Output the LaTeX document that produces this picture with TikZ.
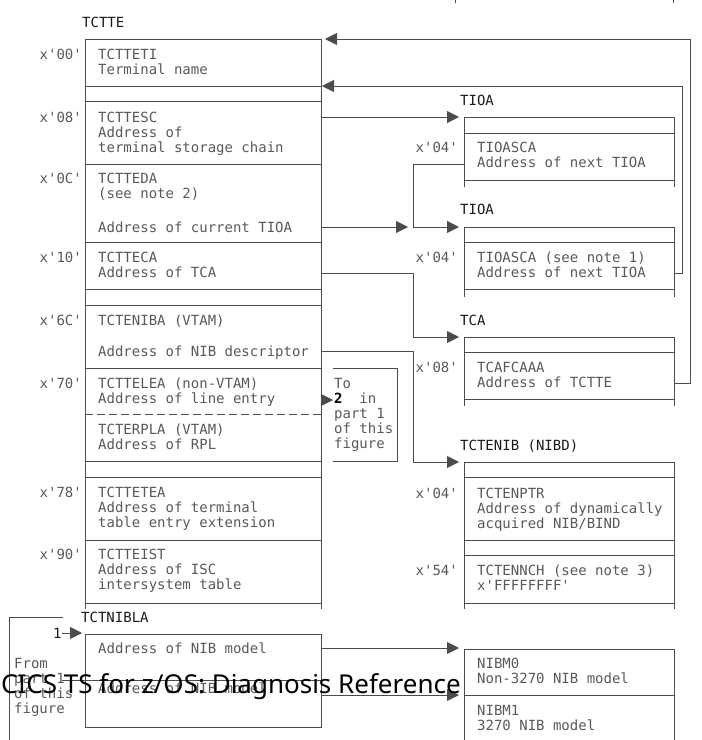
\documentclass[tikz,border=0pt]{standalone}
\usepackage{fontspec}
\setmonofont{DejaVu Sans Mono}
\newfontfamily\hdrfont{Noto Sans}
\usepackage{tikz}
\usetikzlibrary{arrows.meta}

\begin{document}
\begin{tikzpicture}[x=1pt, y=-1pt,
		font=\ttfamily\fontsize{14}{15}\selectfont,
		every node/.style={inner sep=0pt},
		% multi-line fields sit on the baseline of their last line
		fld/.style={anchor=base west, align=left, text=black!65},
		lbl/.style={anchor=base west, text=black!90},
		ofs/.style={anchor=base east, text=black!65},
		box/.style={draw=black!70, line width=0.9pt},
		ptr/.style={box, -{Triangle[length=12pt,width=12pt]}}]
		\useasboundingbox (0,0) rectangle (702,740);
		% ticks left over at the top
		\draw[box] (455,0) -- (455,3) (673,0) -- (673,3);
		% TCTTE
		\node[lbl] (tctte) at (82,27) {TCTTE};
		\draw[box] (85,609) -- (85,39) -- (321,39) -- (321,609);
		\foreach \y in {86,101,164,242,289,305,368,461,477,540,603}
			{\draw[box] (85,\y) -- (321,\y);}
		\draw[box, dash pattern=on 8pt off 4pt] (85,414) -- (321,414);
		\foreach \y/\t in {59/00, 122/08, 183/0C, 262/10, 325/6C, 388/70, 497/78, 559/90}
			{\node[ofs] (o\t) at (82,\y) {x'\t'};}
		\node[fld] (teti) at (98,74)  {TCTTETI\\Terminal name};
		\node[fld] (tesc) at (98,152) {TCTTESC\\Address of\\terminal storage chain};
		\node[fld] (teda) at (98,198) {TCTTEDA\\(see note 2)};
		\node[fld] (tedb) at (98,232) {Address of current TIOA};
		\node[fld] (teca) at (98,277) {TCTTECA\\Address of TCA};
		\node[fld] (nbaa) at (98,325) {TCTENIBA (VTAM)};
		\node[fld] (nbab) at (98,356) {Address of NIB descriptor};
		\node[fld] (telea) at (98,403) {TCTTELEA (non-VTAM)\\Address of line entry};
		\node[fld] (rpla) at (98,449) {TCTERPLA (VTAM)\\Address of RPL};
		\node[fld] (tetea) at (98,527) {TCTTETEA\\Address of terminal\\table entry extension};
		\node[fld] (teist) at (98,589) {TCTTEIST\\Address of ISC\\intersystem table};
		% to part 1
		\draw[box] (333,368) -- (397,368) -- (397,461) -- (333,461);
		\node[fld] (topart) at (334,448) {To\\\textcolor{black}{\textbf{2}}~~in\\part 1\\of this\\figure};
		% TIOA (first)
		\node[lbl] (tioaa) at (460,105) {TIOA};
		\draw[box] (464,187) -- (464,117) -- (674,117) -- (674,187);
		\draw[box] (464,133) -- (674,133) (464,180) -- (674,180);
		\node[ofs] (oa04) at (458,152) {x'04'};
		\node[fld] (scaa) at (477,167) {TIOASCA\\Address of next TIOA};
		% TIOA (second)
		\node[lbl] (tioab) at (460,214) {TIOA};
		\draw[box] (464,297) -- (464,227) -- (674,227) -- (674,297);
		\draw[box] (464,242) -- (674,242) (464,289) -- (674,289);
		\node[ofs] (ob04) at (458,262) {x'04'};
		\node[fld] (scab) at (477,277) {TIOASCA (see note 1)\\Address of next TIOA};
		% TCA
		\node[lbl] (tca) at (460,325) {TCA};
		\draw[box] (464,406) -- (464,337) -- (674,337) -- (674,406);
		\draw[box] (464,352) -- (674,352) (464,399) -- (674,399);
		\node[ofs] (oc08) at (458,372) {x'08'};
		\node[fld] (fcaaa) at (477,387) {TCAFCAAA\\Address of TCTTE};
		% TCTENIB
		\node[lbl] (tctenib) at (460,450) {TCTENIB (NIBD)};
		\draw[box] (464,609) -- (464,462) -- (674,462) -- (674,609);
		\foreach \y in {477,540,555,603}
			{\draw[box] (464,\y) -- (674,\y);}
		\node[ofs] (od04) at (458,498) {x'04'};
		\node[fld] (enptr) at (477,528) {TCTENPTR\\Address of dynamically\\acquired NIB/BIND};
		\node[ofs] (od54) at (458,575) {x'54'};
		\node[fld] (ennch) at (477,590) {TCTENNCH (see note 3)\\x'FFFFFFFF'};
		% TCTNIBLA
		\node[lbl] (tctnibla) at (81,622) {TCTNIBLA};
		\draw[box] (85,634) rectangle (321,727);
		\draw[box] (62,680) -- (321,680);
		\node[fld] (moda) at (98,653) {Address of NIB model};
		\node[fld] (modb) at (98,693) {Address of NIB model};
		\draw[box] (63,617) -- (9,617) -- (9,740);
		\node[fld] (from) at (14,713) {From\\part 1\\of this\\figure};
		\node[lbl] (one) at (53,638) {1};
		% NIB models
		\draw[box] (464,740) -- (464,649) -- (674,649) -- (674,740);
		\draw[box] (464,695) -- (674,695);
		\node[fld] (nibma) at (477,683) {NIBM0\\Non-3270 NIB model};
		\node[fld] (nibmb) at (477,730) {NIBM1\\3270 NIB model};
		% pointers
		\coordinate (ptesc) at (321,117);  \coordinate (intioaa) at (459,117);
		\coordinate (pscaa) at (464,164);  \coordinate (intioab) at (459,227);
		\coordinate (pteda) at (321,227);  \coordinate (inchain) at (408,227);
		\coordinate (pteca) at (321,273);  \coordinate (intca) at (459,337);
		\coordinate (pnba) at (321,351);   \coordinate (innib) at (459,462);
		\coordinate (pfca) at (674,383);   \coordinate (intctte) at (325,39);
		\coordinate (pscab) at (674,273);  \coordinate (intctteb) at (322,86);
		\coordinate (plea) at (321,400);   \coordinate (intopart) at (333,400);
		\coordinate (pmoda) at (321,648);  \coordinate (innibma) at (459,648);
		\coordinate (pmodb) at (321,695);  \coordinate (innibmb) at (459,695);
		\coordinate (pone) at (62,633);    \coordinate (innibla) at (82,633);
		\draw[ptr] (ptesc) -- (intioaa);
		\draw[ptr] (pscaa) -- ++(-51,0) |- (intioab);
		\draw[ptr] (pteda) -- (inchain);
		\draw[ptr] (pteca) -- ++(92,0) |- (intca);
		\draw[ptr] (pnba) -- ++(92,0) |- (innib);
		\draw[ptr] (pfca) -- ++(16,0) |- (intctte);
		\draw[ptr] (pscab) -- ++(8,0) |- (intctteb);
		\draw[ptr] (plea) -- (intopart);
		\draw[ptr] (pmoda) -- (innibma);
		\draw[ptr] (pmodb) -- (innibmb);
		\draw[ptr] (pone) -- (innibla);
		% page header printed over the figure
		\node[anchor=base west, font=\hdrfont\fontsize{26}{26}\selectfont, text=black] (hdr)
		at (1,693) {CICS TS for z/OS: Diagnosis Reference};
	\end{tikzpicture}
\end{document}
